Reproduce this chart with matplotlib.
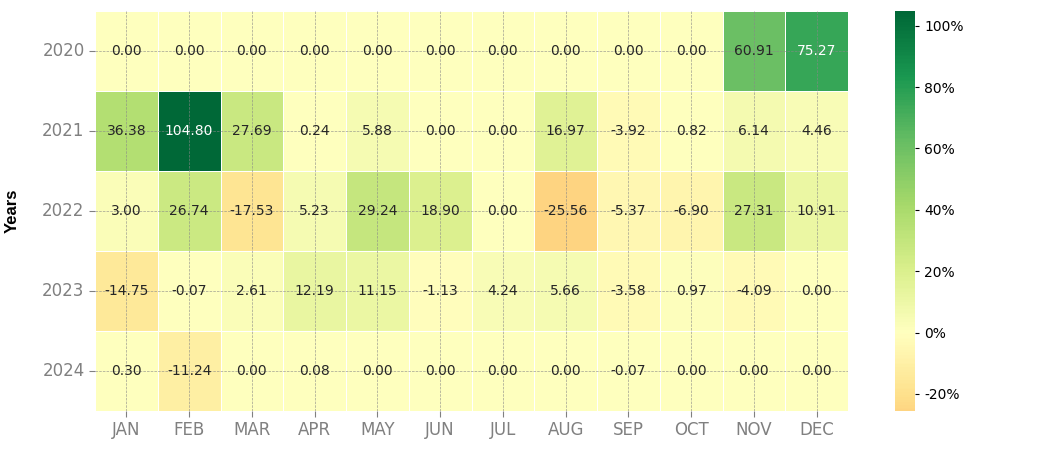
import matplotlib
matplotlib.use("Agg")
import matplotlib.pyplot as plt
import seaborn as sns
import numpy as np
import pandas as pd

years = ["2020", "2021", "2022", "2023", "2024"]
months = ["JAN", "FEB", "MAR", "APR", "MAY", "JUN", "JUL", "AUG", "SEP", "OCT", "NOV", "DEC"]
r2020 = [0.00, 0.00, 0.00, 0.00, 0.00, 0.00, 0.00, 0.00, 0.00, 0.00, 60.91, 75.27]
r2021 = [36.38, 104.80, 27.69, 0.24, 5.88, 0.00, 0.00, 16.97, -3.92, 0.82, 6.14, 4.46]
r2022 = [3.00, 26.74, -17.53, 5.23, 29.24, 18.90, 0.00, -25.56, -5.37, -6.90, 27.31, 10.91]
r2023 = [-14.75, -0.07, 2.61, 12.19, 11.15, -1.13, 4.24, 5.66, -3.58, 0.97, -4.09, 0.00]
r2024 = [0.30, -11.24, 0.00, 0.08, 0.00, 0.00, 0.00, 0.00, -0.07, 0.00, 0.00, 0.00]

df = pd.DataFrame([r2020, r2021, r2022, r2023, r2024], index=years, columns=months)

fig = plt.figure(figsize=(10.51, 4.55), dpi=100)
ax = fig.add_axes([95/1051, 1 - 411/455, (848-95)/1051, 400/455])
cax = fig.add_axes([895/1051, 1 - 411/455, 20/1051, 400/455])

sns.heatmap(df, ax=ax, cbar_ax=cax, annot=True, center=0, fmt="0.2f",
            annot_kws={"size": 10}, linewidths=0.5, linecolor="white",
            cmap="RdYlGn", cbar_kws={"format": "%.0f%%"})

ax.set_axisbelow(False)
ax.grid(True, linestyle="--", color="#888888", linewidth=0.5, alpha=0.8)
ax.tick_params(axis="both", colors="#808080", labelsize=12, length=4, width=0.8)
ax.set_yticklabels(years, rotation=0, color="#808080")
ax.set_xticklabels(months, rotation=0, color="#808080")
ax.set_xlabel("")
ax.set_ylabel("Years", fontweight="bold", fontsize=12, family="Liberation Sans", labelpad=0)
ax.yaxis.set_label_coords(-75/753, 0.5)
for s in ax.spines.values():
    s.set_visible(False)

cax.tick_params(labelsize=10, colors="black", length=3)
cax.set_yticks([-20, 0, 20, 40, 60, 80, 100])
for s in cax.spines.values():
    s.set_visible(False)

fig.savefig("out.png", dpi=100, facecolor="white")
